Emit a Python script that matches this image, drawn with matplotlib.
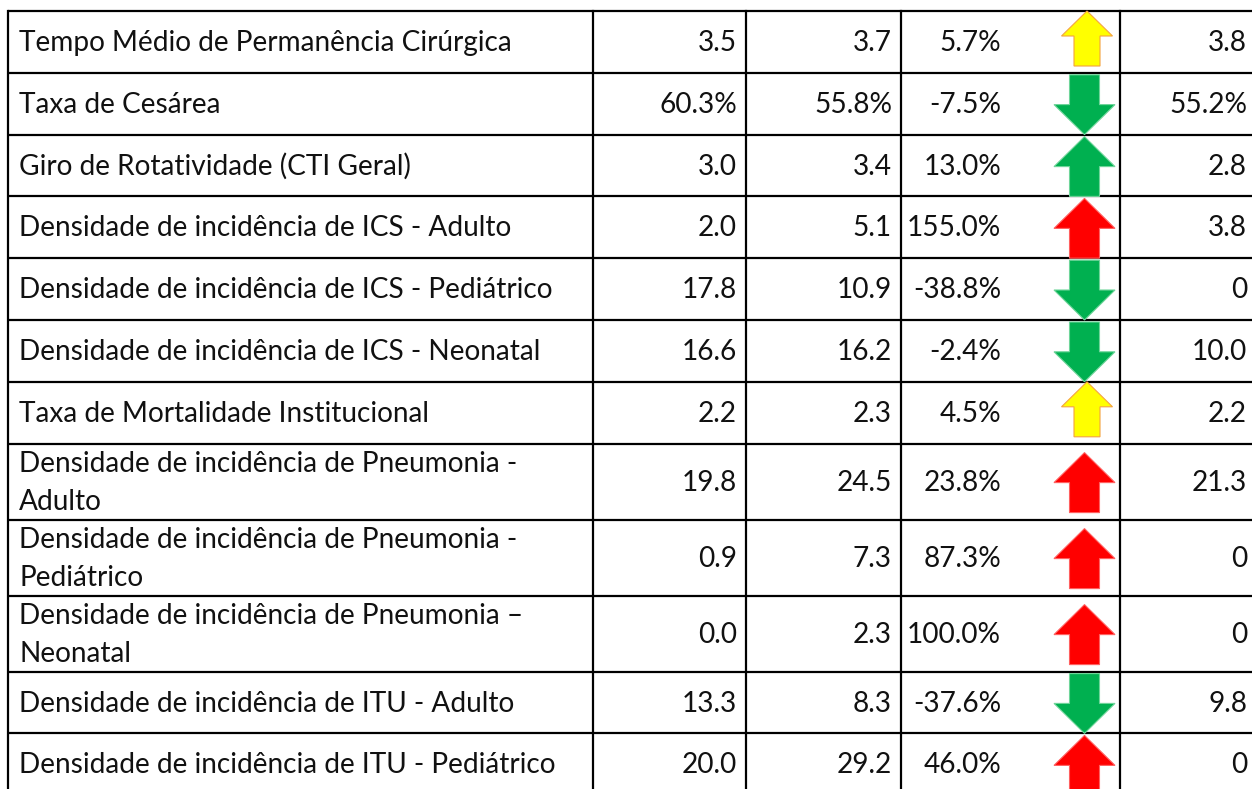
import matplotlib
matplotlib.use("Agg")
import matplotlib.pyplot as plt
from matplotlib.patches import Polygon

# ---------------- data ----------------
indicators = [
    "Tempo Médio de Permanência Cirúrgica",
    "Taxa de Cesárea",
    "Giro de Rotatividade (CTI Geral)",
    "Densidade de incidência de ICS - Adulto",
    "Densidade de incidência de ICS - Pediátrico",
    "Densidade de incidência de ICS - Neonatal",
    "Taxa de Mortalidade Institucional",
    "Densidade de incidência de Pneumonia -\nAdulto",
    "Densidade de incidência de Pneumonia -\nPediátrico",
    "Densidade de incidência de Pneumonia –\nNeonatal",
    "Densidade de incidência de ITU - Adulto",
    "Densidade de incidência de ITU - Pediátrico",
]
is_percent = [False, True, False, False, False, False, False, False, False, False, False, False]
period_a = [3.5, 60.3, 3.0, 2.0, 17.8, 16.6, 2.2, 19.8, 0.9, 0.0, 13.3, 20.0]
period_b = [3.7, 55.8, 3.4, 5.1, 10.9, 16.2, 2.3, 24.5, 7.3, 2.3, 8.3, 29.2]
variation = [5.7, -7.5, 13.0, 155.0, -38.8, -2.4, 4.5, 23.8, 87.3, 100.0, -37.6, 46.0]
status = ["warn", "good", "good", "bad", "good", "good", "warn", "bad", "bad", "bad", "good", "bad"]
target = [3.8, 55.2, 2.8, 3.8, 0, 10.0, 2.2, 21.3, 0, 0, 9.8, 0]

status_fill = {"warn": "#FFFF00", "good": "#00B050", "bad": "#FF0000"}
status_edge = {"warn": "#F4A340", "good": "#6FD59A", "bad": "#FF6060"}

# ---------------- layout ----------------
W, H = 1252, 789
fig = plt.figure(figsize=(W / 100, H / 100), dpi=100)
ax = fig.add_axes([0, 0, 1, 1])
ax.set_xlim(0, W)
ax.set_ylim(H, 0)
ax.axis("off")

FONT = "Lato"
FS = 20.2
col_x = [8, 593, 746, 901, 1120, 1262]
top = 11
single_h, double_h = 61.8, 76.0
lw = 1.6

def fmt(v, pct, zero_plain=False):
    if zero_plain and v == 0:
        return "0"
    return f"{v:.1f}%" if pct else f"{v:.1f}"

y = top
row_edges = [y]
for lab in indicators:
    y += double_h if "\n" in lab else single_h
    row_edges.append(y)

for i, lab in enumerate(indicators):
    y0, y1 = row_edges[i], row_edges[i + 1]
    yc = (y0 + y1) / 2 + 1
    ax.text(col_x[0] + 11, yc, lab, ha="left", va="center", fontsize=FS,
            family=FONT, color="#111111", linespacing=1.58)
    ax.text(col_x[2] - 9, yc, fmt(period_a[i], is_percent[i]), ha="right",
            va="center", fontsize=FS, family=FONT, color="#111111")
    ax.text(col_x[3] - 9, yc, fmt(period_b[i], is_percent[i]), ha="right",
            va="center", fontsize=FS, family=FONT, color="#111111")
    ax.text(1001, yc, f"{variation[i]:.1f}%", ha="right", va="center",
            fontsize=FS, family=FONT, color="#111111")
    ax.text(1247, yc, fmt(target[i], is_percent[i], zero_plain=True), ha="right",
            va="center", fontsize=FS, family=FONT, color="#111111")

    # arrow
    st = status[i]
    up = variation[i] > 0
    if st == "warn":
        aw, sw, ah, hh = 51, 26, 55, 25
        cx = 1087
        a0 = y0
    else:
        aw, sw, ah, hh = 61, 30, min(60, y1 - y0 - 2), 30
        cx = 1084.5
        a0 = (y0 + y1) / 2 - ah / 2 + 1
    a1 = a0 + ah
    if up:
        pts = [(cx, a0), (cx + aw / 2, a0 + hh), (cx + sw / 2, a0 + hh),
               (cx + sw / 2, a1), (cx - sw / 2, a1), (cx - sw / 2, a0 + hh),
               (cx - aw / 2, a0 + hh)]
    else:
        pts = [(cx, a1), (cx + aw / 2, a1 - hh), (cx + sw / 2, a1 - hh),
               (cx + sw / 2, a0), (cx - sw / 2, a0), (cx - sw / 2, a1 - hh),
               (cx - aw / 2, a1 - hh)]
    ax.add_patch(Polygon(pts, closed=True, facecolor=status_fill[st],
                         edgecolor=status_edge[st], linewidth=0.8, zorder=3))

# grid lines
for ye in row_edges:
    ax.plot([col_x[0], W + 5], [ye, ye], color="black", lw=lw,
            solid_capstyle="butt", zorder=2)
for xe in col_x[:5]:
    ax.plot([xe, xe], [row_edges[0], row_edges[-1]], color="black", lw=lw, zorder=2)

fig.savefig("out.png", dpi=100, facecolor="white")
